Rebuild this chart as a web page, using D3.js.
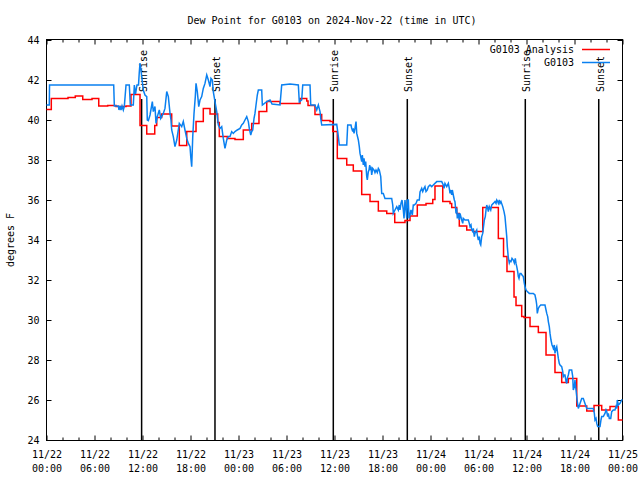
<!DOCTYPE html>
<html><head><meta charset="utf-8">
<script src="https://cdn.jsdelivr.net/npm/d3@7"></script>
<style>
body{margin:0;background:#fff}
svg text{font-family:"DejaVu Sans Mono",monospace;font-size:10px;fill:#000}
</style>
</head><body>
<svg id="chart" width="640" height="480"></svg>
<script>
// ---------------- data ----------------
const chartTitle = "Dew Point for G0103 on 2024-Nov-22 (time in UTC)";
const yAxisLabel = "degrees F";
const startUTC = "2024-11-22T00:00:00Z";
const spanHours = 72;
const yTicks = [24, 26, 28, 30, 32, 34, 36, 38, 40, 42, 44];
const seriesNames = ["G0103 Analysis", "G0103"];
const seriesColors = ["#ff0000", "#0a80f0"];

// analysis (step) series: hours since start, dew point F
const analysisHours = [
  0.00, 0.60, 2.69, 3.60, 4.53, 5.69, 6.53, 7.65, 8.69, 9.94,
  10.56, 11.69, 12.53, 13.53, 13.78, 14.40, 15.65, 16.60, 17.53, 18.69,
  19.60, 20.44, 21.40, 21.60, 22.60, 23.56, 24.60, 25.65, 26.56, 27.53,
  29.19, 31.69, 32.53, 32.69, 33.56, 34.40, 35.44, 35.78, 36.35, 37.53,
  38.35, 39.40, 40.44, 41.48, 42.53, 43.53, 44.81, 45.44, 46.35, 47.44,
  48.28, 48.56, 49.53, 50.44, 50.65, 51.28, 51.60, 52.53, 53.35, 54.53,
  56.48, 57.13, 57.56, 58.44, 58.69, 59.40, 59.69, 60.44, 61.48, 62.44,
  63.56, 64.40, 65.23, 66.28, 67.53, 68.44, 69.40, 70.44, 71.48, 72.00
];
const analysisDew = [
  40.53, 41.08, 41.12, 41.20, 41.03, 41.08, 40.70, 40.73, 40.67, 40.70,
  41.28, 39.73, 39.30, 39.73, 40.13, 40.30, 39.70, 38.73, 39.42, 39.92,
  40.58, 40.30, 39.87, 39.17, 39.08, 39.03, 39.50, 39.83, 40.42, 40.92,
  40.83, 41.08, 40.95, 40.72, 40.28, 39.97, 39.92, 39.42, 38.08, 37.75,
  37.45, 36.28, 35.92, 35.45, 35.33, 34.88, 34.97, 35.20, 35.75, 35.83,
  36.03, 36.70, 35.92, 35.83, 35.63, 35.33, 34.70, 34.50, 34.42, 35.63,
  34.08, 33.17, 32.42, 31.15, 30.73, 30.17, 30.12, 29.67, 29.37, 28.25,
  27.37, 26.87, 27.07, 25.70, 25.45, 25.72, 25.50, 25.67, 25.00, 25.00
];

// observed series: hours since start, dew point F
const obsHours = [
  0.00, 0.35, 0.38, 8.40, 8.48, 8.98, 9.06, 9.19, 9.31, 9.44,
  9.60, 9.73, 9.94, 10.35, 10.48, 10.85, 10.98, 11.13, 11.31, 11.50,
  11.60, 11.69, 11.81, 11.90, 12.10, 12.31, 12.53, 12.60, 12.73, 12.94,
  13.23, 13.35, 13.56, 13.69, 13.85, 14.10, 14.28, 14.60, 14.81, 15.03,
  15.23, 15.44, 15.56, 15.65, 15.85, 16.06, 16.28, 16.60, 16.90, 17.10,
  17.31, 17.53, 17.73, 17.94, 18.03, 18.15, 18.28, 18.44, 18.60, 18.69,
  18.85, 19.03, 19.19, 19.40, 19.60, 19.81, 20.03, 20.23, 20.44, 20.56,
  20.73, 20.85, 21.06, 21.28, 21.48, 21.69, 21.90, 22.10, 22.31, 22.53,
  22.73, 22.94, 23.15, 23.35, 23.56, 23.85, 24.19, 24.40, 24.60, 24.81,
  25.03, 25.23, 25.35, 25.53, 25.65, 25.78, 25.94, 26.06, 26.19, 26.35,
  26.48, 26.90, 26.98, 27.53, 27.94, 28.19, 29.19, 29.40, 30.44, 31.48,
  31.60, 31.90, 32.03, 32.94, 33.03, 33.56, 33.78, 33.98, 34.19, 34.28,
  34.40, 36.28, 36.48, 36.60, 37.53, 37.65, 38.06, 38.15, 38.28, 38.35,
  38.44, 38.56, 38.69, 38.78, 38.98, 39.10, 39.19, 39.28, 39.40, 39.48,
  39.60, 39.69, 39.81, 39.90, 40.03, 40.10, 40.23, 40.31, 40.40, 40.48,
  40.56, 40.65, 40.78, 40.94, 41.06, 41.19, 41.35, 41.48, 41.60, 41.78,
  41.90, 42.10, 42.31, 43.15, 43.28, 43.35, 43.56, 43.78, 43.98, 44.10,
  44.19, 44.31, 44.44, 44.60, 44.69, 44.81, 44.94, 45.03, 45.10, 45.23,
  45.31, 45.44, 45.56, 45.73, 45.85, 45.98, 46.19, 46.35, 46.60, 46.69,
  46.90, 47.03, 47.19, 47.31, 47.44, 47.60, 47.73, 47.94, 48.15, 48.35,
  48.78, 49.40, 49.60, 49.69, 49.81, 50.03, 50.23, 50.35, 50.44, 50.56,
  50.65, 50.73, 50.85, 50.98, 51.06, 51.19, 51.28, 51.35, 51.48, 51.60,
  51.69, 51.90, 52.03, 52.10, 52.31, 52.73, 52.85, 52.94, 53.06, 53.15,
  53.28, 53.35, 53.48, 53.56, 53.78, 53.85, 53.98, 54.10, 54.19, 54.28,
  54.40, 54.53, 54.60, 54.73, 54.85, 54.94, 55.03, 55.15, 55.23, 55.35,
  55.53, 55.65, 55.85, 56.06, 56.19, 56.28, 56.40, 56.48, 56.60, 56.69,
  56.81, 57.03, 57.19, 57.31, 57.44, 57.53, 57.60, 57.73, 57.85, 57.94,
  58.06, 58.19, 58.35, 58.48, 58.60, 58.69, 58.78, 58.90, 58.98, 59.06,
  59.19, 59.31, 59.44, 59.60, 59.73, 59.81, 59.94, 60.10, 60.35, 60.65,
  60.85, 61.06, 61.19, 61.28, 61.35, 61.48, 61.60, 61.78, 62.31, 62.44,
  62.53, 62.65, 62.73, 62.85, 62.94, 63.06, 63.19, 63.28, 63.35, 63.48,
  63.56, 63.69, 63.78, 63.98, 64.10, 64.19, 64.40, 64.53, 64.60, 64.73,
  64.81, 64.94, 65.03, 65.10, 65.23, 65.35, 65.65, 65.78, 65.85, 65.98,
  66.06, 66.19, 66.35, 66.48, 66.69, 66.90, 67.10, 67.31, 67.53, 68.35,
  68.48, 68.56, 68.69, 68.78, 68.90, 69.19, 69.31, 69.40, 69.60, 69.81,
  69.94, 70.03, 70.15, 70.23, 70.35, 70.53, 70.65, 70.85, 71.06, 71.19,
  71.28, 71.35, 71.48, 71.69, 71.90, 72.00
];
const obsDew = [
  40.75, 40.75, 41.75, 41.75, 40.70, 40.70, 40.50, 40.70, 40.50, 40.70,
  40.50, 40.70, 41.75, 41.75, 40.75, 40.75, 41.75, 41.30, 41.75, 41.75,
  42.40, 42.85, 42.50, 42.17, 41.50, 41.25, 41.17, 40.00, 39.97, 40.25,
  40.92, 40.42, 40.67, 39.83, 40.17, 40.50, 40.08, 40.33, 40.58, 41.42,
  41.17, 40.33, 40.00, 39.50, 39.17, 38.67, 39.00, 39.83, 39.67, 39.92,
  39.50, 39.08, 38.83, 38.67, 38.17, 37.67, 39.17, 40.33, 41.17, 41.83,
  41.42, 40.67, 41.00, 41.17, 41.58, 41.83, 42.25, 42.00, 41.67, 42.08,
  42.00, 41.42, 40.92, 40.42, 39.75, 39.58, 39.67, 39.08, 38.58, 39.00,
  39.17, 39.17, 39.42, 39.33, 39.42, 39.50, 39.58, 39.75, 39.83, 40.00,
  40.17, 39.92, 39.58, 39.25, 39.42, 39.50, 40.08, 40.33, 40.75, 41.25,
  41.50, 41.50, 40.75, 40.92, 41.00, 40.80, 40.75, 41.75, 41.80, 41.75,
  40.90, 41.00, 41.75, 41.75, 40.75, 40.75, 40.50, 40.75, 40.42, 40.08,
  39.75, 39.78, 39.17, 38.75, 38.75, 39.75, 39.75, 39.58, 39.42, 39.58,
  39.33, 39.58, 39.92, 39.33, 39.00, 38.67, 38.33, 38.17, 37.92, 38.25,
  37.75, 38.08, 37.67, 37.92, 37.17, 37.00, 37.42, 37.50, 37.75, 37.50,
  37.67, 37.25, 37.58, 37.50, 37.37, 37.50, 37.37, 37.58, 37.50, 37.17,
  36.33, 36.33, 36.08, 36.08, 35.75, 35.33, 35.50, 35.67, 35.50, 35.75,
  35.50, 35.83, 36.00, 35.50, 35.08, 36.00, 35.50, 35.08, 36.00, 36.00,
  35.08, 35.25, 35.50, 35.25, 35.75, 35.75, 35.83, 36.00, 36.00, 36.40,
  36.58, 36.42, 36.58, 36.67, 36.42, 36.50, 36.67, 36.75, 36.67, 36.75,
  36.92, 36.92, 36.75, 36.58, 36.83, 36.67, 36.83, 36.58, 36.33, 36.50,
  36.25, 36.50, 36.25, 36.00, 35.92, 35.33, 35.58, 35.08, 35.33, 35.00,
  35.33, 35.00, 34.83, 35.08, 35.00, 35.00, 34.83, 34.67, 34.75, 34.50,
  34.42, 34.58, 34.17, 34.33, 34.50, 34.25, 34.00, 34.17, 33.83, 33.75,
  34.17, 34.33, 34.58, 35.00, 35.17, 35.50, 35.75, 35.58, 35.42, 35.67,
  35.50, 35.75, 35.83, 35.92, 35.83, 36.00, 35.92, 35.83, 36.00, 35.83,
  35.92, 35.67, 35.42, 35.17, 34.58, 34.17, 33.67, 33.10, 32.85, 32.95,
  32.92, 33.08, 33.00, 32.85, 33.08, 32.83, 32.67, 32.42, 32.17, 32.08,
  32.33, 32.33, 32.25, 32.17, 31.83, 31.67, 31.50, 31.42, 31.33, 31.33,
  31.33, 31.25, 31.00, 30.75, 30.33, 30.58, 30.67, 30.75, 30.75, 30.50,
  30.33, 30.17, 29.92, 29.67, 29.33, 29.00, 28.75, 28.67, 28.58, 28.75,
  28.33, 28.58, 28.67, 28.08, 27.83, 27.75, 27.67, 27.42, 27.17, 27.25,
  27.25, 26.92, 26.83, 27.08, 27.25, 27.50, 27.50, 27.17, 26.50, 26.67,
  27.00, 26.50, 25.92, 25.58, 25.83, 26.08, 26.08, 25.83, 25.58, 25.58,
  25.33, 25.00, 25.08, 24.83, 24.67, 24.67, 25.00, 25.17, 25.17, 25.33,
  25.50, 25.42, 25.17, 25.33, 25.08, 25.08, 25.42, 25.50, 25.50, 25.67,
  25.58, 26.00, 25.75, 25.83, 26.00, 26.00
];

// sunrise / sunset markers (hours since start)
const sunLabels = ["Sunrise", "Sunset", "Sunrise", "Sunset", "Sunrise", "Sunset"];
const sunHours = [11.89, 21.06, 35.85, 45.10, 59.85, 69.03];

// ---------------- drawing ----------------
const t0 = new Date(startUTC).getTime();
const toDate = h => new Date(t0 + h * 3600e3);

const svg = d3.select("#chart");
const L = 46.5, R = 622.5, T = 39.5, B = 440.5;

const x = d3.scaleUtc().domain([toDate(0), toDate(spanHours)]).range([L, R]);
const y = d3.scaleLinear().domain([24, 44]).range([440, 40]);

const majorTicks = d3.utcHour.every(6).range(toDate(0), toDate(spanHours + 0.01));
const minorTicks = d3.utcHour.every(2).range(toDate(0), toDate(spanHours + 0.01))
  .filter(d => d.getUTCHours() % 6 !== 0);

function styleAxis(g) {
  g.attr("font-family", null).attr("font-size", null).attr("color", "#000");
  g.select(".domain").remove();
  g.selectAll(".tick line").attr("stroke-width", 1);
}

// bottom axis with two-line labels
const fmtDay = d3.utcFormat("%m/%d"), fmtTime = d3.utcFormat("%H:%M");
const gxB = svg.append("g").attr("transform", `translate(0,${B})`)
  .call(d3.axisBottom(x).tickValues(majorTicks).tickSizeInner(-5).tickSizeOuter(0).tickFormat(fmtDay))
  .call(styleAxis);
gxB.selectAll(".tick text").each(function(d) {
  const t = d3.select(this).attr("dy", null).attr("y", null).text(null);
  t.append("tspan").attr("x", 0).attr("y", 17).text(fmtDay(d));
  t.append("tspan").attr("x", 0).attr("y", 31).text(fmtTime(d));
});
svg.append("g").attr("transform", `translate(0,${B})`)
  .call(d3.axisBottom(x).tickValues(minorTicks).tickSizeInner(-3).tickSizeOuter(0).tickFormat(""))
  .call(styleAxis);

// top mirror ticks
svg.append("g").attr("transform", `translate(0,${T})`)
  .call(d3.axisTop(x).tickValues(majorTicks).tickSizeInner(-5).tickSizeOuter(0).tickFormat(""))
  .call(styleAxis);
svg.append("g").attr("transform", `translate(0,${T})`)
  .call(d3.axisTop(x).tickValues(minorTicks).tickSizeInner(-3).tickSizeOuter(0).tickFormat(""))
  .call(styleAxis);

// left axis
const gyL = svg.append("g").attr("transform", `translate(${L},0)`)
  .call(d3.axisLeft(y).tickValues(yTicks).tickSizeInner(-5).tickSizeOuter(0).tickPadding(7).tickFormat(d3.format("d")))
  .call(styleAxis);
gyL.selectAll(".tick text").attr("dy", "0.35em");
// right mirror ticks
svg.append("g").attr("transform", `translate(${R},0)`)
  .call(d3.axisRight(y).tickValues(yTicks).tickSizeInner(-5).tickSizeOuter(0).tickFormat(""))
  .call(styleAxis);

// border
svg.append("rect").attr("x", L).attr("y", T).attr("width", R - L).attr("height", B - T)
  .attr("fill", "none").attr("stroke", "#000").attr("stroke-width", 1);

// sunrise/sunset lines and labels
const sunG = svg.append("g");
sunHours.forEach((h, i) => {
  const sx = x(toDate(h));
  sunG.append("line").attr("x1", sx).attr("x2", sx).attr("y1", y(24)).attr("y2", 99)
    .attr("stroke", "#000").attr("stroke-width", 1.5);
  sunG.append("text").attr("transform", `translate(${sx + 5},92) rotate(-90)`)
    .attr("text-anchor", "start").text(sunLabels[i]);
});

// analysis series (steps)
const analysisData = analysisHours.map((h, i) => ({ t: toDate(h), v: analysisDew[i] }));
svg.append("path").datum(analysisData)
  .attr("fill", "none").attr("stroke", seriesColors[0]).attr("stroke-width", 1.5)
  .attr("d", d3.line().x(d => x(d.t)).y(d => y(d.v)).curve(d3.curveStepAfter));

// observed series
const obsData = obsHours.map((h, i) => ({ t: toDate(h), v: obsDew[i] }));
svg.append("path").datum(obsData)
  .attr("fill", "none").attr("stroke", seriesColors[1]).attr("stroke-width", 1.5)
  .attr("stroke-linejoin", "miter")
  .attr("d", d3.line().x(d => x(d.t)).y(d => y(d.v)));

// legend
const legendRows = [53, 66];
const legendLineY = [49.5, 62.5];
seriesNames.forEach((name, i) => {
  svg.append("text").attr("x", 574).attr("y", legendRows[i]).attr("text-anchor", "end").text(name);
  svg.append("line").attr("x1", 582).attr("x2", 610).attr("y1", legendLineY[i]).attr("y2", legendLineY[i])
    .attr("stroke", seriesColors[i]).attr("stroke-width", 1.5);
});

// title & axis label
svg.append("text").attr("x", 332).attr("y", 24).attr("text-anchor", "middle").text(chartTitle);
svg.append("text").attr("transform", "translate(14,240) rotate(-90)").attr("text-anchor", "middle").text(yAxisLabel);
</script>
</body></html>
